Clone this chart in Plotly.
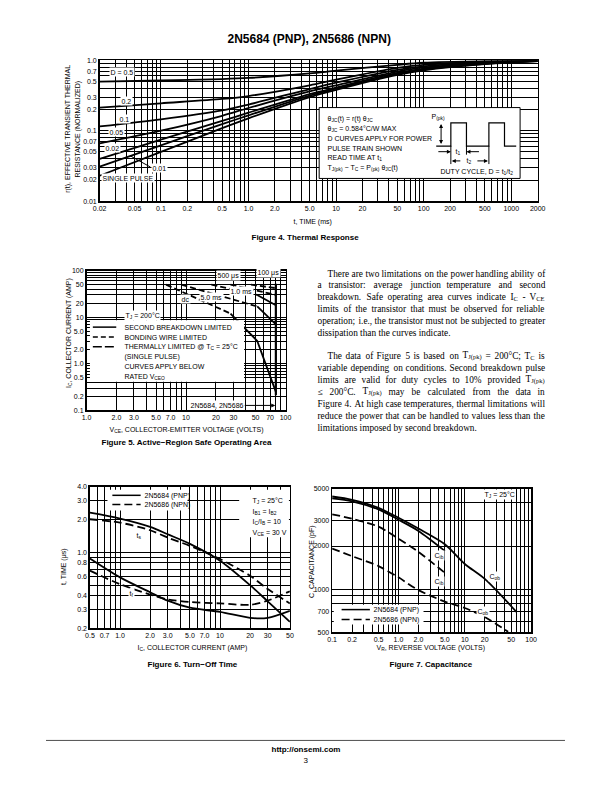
import plotly.graph_objects as go
import math
import re

W, H = 612, 792
F = "Liberation Sans Narrow, Arial Narrow, Liberation Sans, Arial, sans-serif"
FS = "Liberation Serif, Times New Roman, serif"
FB = "Liberation Sans, Arial, sans-serif"

# ---------------- Figure 4 : Thermal response ----------------
f4_t = [0.02, 0.1, 0.5, 1, 5, 10, 50, 100, 500, 2000]
f4_d05 = [0.496, 0.515, 0.54, 0.56, 0.65, 0.71, 0.86, 0.92, 0.97, 0.99]
f4_d02 = [0.213, 0.245, 0.282, 0.31, 0.44, 0.53, 0.78, 0.86, 0.95, 0.985]
f4_d01 = [0.115, 0.145, 0.194, 0.235, 0.39, 0.48, 0.73, 0.82, 0.93, 0.98]
f4_d005 = [0.066, 0.10, 0.163, 0.21, 0.36, 0.44, 0.69, 0.79, 0.91, 0.98]
f4_d002 = [0.040, 0.075, 0.138, 0.18, 0.33, 0.41, 0.66, 0.76, 0.90, 0.975]
f4_d001 = [0.031, 0.062, 0.124, 0.165, 0.315, 0.395, 0.64, 0.74, 0.89, 0.97]
f4_single = [0.023, 0.05, 0.109, 0.15, 0.30, 0.38, 0.62, 0.72, 0.88, 0.97]
f4_xt = [0.02, 0.05, 0.1, 0.2, 0.5, 1, 2, 5, 10, 20, 50, 100, 200, 500, 1000, 2000]
f4_xl = ['0.02', '0.05', '0.1', '0.2', '0.5', '1.0', '2.0', '5.0', '10', '20', '50', '100', '200', '500', '1000', '2000']
f4_yt = [0.01, 0.02, 0.03, 0.05, 0.07, 0.1, 0.2, 0.3, 0.5, 0.7, 1.0]
f4_yl = ['0.01', '0.02', '0.03', '0.05', '0.07', '0.1', '0.2', '0.3', '0.5', '0.7', '1.0']

# ---------------- Figure 5 : Safe operating area ----------------
f5_dc_th_v = [6.3, 28]
f5_dc_th_i = [50, 12]
f5_dc_sb_v = [28, 52, 80]
f5_dc_sb_i = [12, 3.1, 0.25]
f5_5ms_th_v = [9, 52]
f5_5ms_th_i = [50, 17]
f5_5ms_sb_v = [52, 80]
f5_5ms_sb_i = [17, 7]
f5_1ms_th_v = [18, 52]
f5_1ms_th_i = [50, 30]
f5_1ms_sb_v = [52, 80]
f5_1ms_sb_i = [30, 18]
f5_500us_v = [28, 80]
f5_500us_i = [50, 30]
f5_100us_v = [45, 80]
f5_100us_i = [50, 42]
f5_vceo_v = [80, 80]
f5_vceo_i = [52, 0.21]
f5_xt = [1, 2, 3, 5, 7, 10, 20, 30, 50, 70, 100]
f5_xl = ['1.0', '2.0', '3.0', '5.0', '7.0', '10', '20', '30', '50', '70', '100']
f5_yt = [0.1, 0.2, 0.5, 1, 2, 5, 10, 20, 50, 100]
f5_yl = ['0.1', '0.2', '0.5', '1.0', '2.0', '5.0', '10', '20', '50', '100']

# ---------------- Figure 6 : Turn-off time ----------------
f6_ic = [0.5, 1, 2, 3, 5, 10, 20, 30, 50]
f6_ts_pnp = [2.32, 2.05, 1.72, 1.47, 1.2, 0.84, 0.50, 0.355, 0.23]
f6_ts_npn = [2.02, 1.88, 1.6, 1.37, 1.15, 0.87, 0.61, 0.46, 0.34]
f6_tf_pnp = [0.88, 0.59, 0.43, 0.36, 0.31, 0.284, 0.25, 0.25, 0.29]
f6_tf_npn = [0.68, 0.51, 0.41, 0.37, 0.35, 0.34, 0.33, 0.36, 0.44]
f6_xt = [0.5, 0.7, 1, 2, 3, 5, 7, 10, 20, 30, 50]
f6_xl = ['0.5', '0.7', '1.0', '2.0', '3.0', '5.0', '7.0', '10', '20', '30', '50']
f6_yt = [0.2, 0.3, 0.4, 0.6, 0.8, 1, 2, 3, 4]
f6_yl = ['0.2', '0.3', '0.4', '0.6', '0.8', '1.0', '2.0', '3.0', '4.0']

# ---------------- Figure 7 : Capacitance ----------------
f7_v_ob_pnp = [0.1, 0.2, 0.5, 1, 2, 5, 10, 20, 60]
f7_cob_pnp = [4430, 4200, 3690, 3150, 2650, 2060, 1500, 1180, 695]
f7_v_ib = [0.1, 0.2, 0.5, 1, 2, 5]
f7_cib_pnp = [4300, 4100, 3600, 3050, 2550, 1850]
f7_cib_npn = [3330, 3100, 2730, 2250, 1820, 1300]
f7_v_ob_npn = [0.1, 0.2, 0.5, 1, 2, 5, 10, 20, 45]
f7_cob_npn = [1924, 1700, 1450, 1210, 985, 820, 740, 640, 505]
f7_xt = [0.1, 0.2, 0.5, 1, 2, 5, 10, 20, 50, 100]
f7_xl = ['0.1', '0.2', '0.5', '1.0', '2.0', '5.0', '10', '20', '50', '100']
f7_yt = [500, 700, 1000, 2000, 3000, 5000]
f7_yl = ['500', '700', '1000', '2000', '3000', '5000']

# text column
para1 = [
    "There are two limitations on the power handling ability of",
    "a transistor: average junction temperature and second",
    "breakdown. Safe operating area curves indicate I<sub>C</sub> - V<sub>CE</sub>",
    "limits of the transistor that must be observed for reliable",
    "operation; i.e., the transistor must not be subjected to greater",
    "dissipation than the curves indicate.",
]
para2 = [
    "The data of Figure 5 is based on T<sub>J(pk)</sub> = 200°C; T<sub>C</sub> is",
    "variable depending on conditions. Second breakdown pulse",
    "limits are valid for duty cycles to 10% provided T<sub>J(pk)</sub>",
    "≤ 200°C. T<sub>J(pk)</sub> may be calculated from the data in",
    "Figure 4. At high case temperatures, thermal limitations will",
    "reduce the power that can be handled to values less than the",
    "limitations imposed by second breakdown.",
]


def PX(x):
    return x / W


def PY(y):
    return 1 - y / H


def log_grid(lo, hi):
    out = []
    e = math.floor(math.log10(lo)) - 1
    while 10 ** e <= hi * 1.0001:
        for m in range(1, 10):
            v = m * 10 ** e
            if lo * 0.9999 <= v <= hi * 1.0001:
                out.append(v)
        e += 1
    return out


def axis(px0, px1, lo, hi, tv, tl, anchor, horizontal=True):
    d = dict(type='log', range=[math.log10(lo), math.log10(hi)],
             tickmode='array', tickvals=tv, ticktext=tl, ticks='',
             showgrid=True, gridcolor='black', gridwidth=1,
             minor=dict(tickmode='array', tickvals=log_grid(lo, hi), showgrid=True,
                        gridcolor='black', gridwidth=1, ticks=''),
             showline=True, linecolor='black', linewidth=1.5, mirror=True,
             zeroline=False, anchor=anchor, fixedrange=True,
             tickfont=dict(family=F, size=7, color='black'))
    if horizontal:
        d['domain'] = [px0 / W, px1 / W]
    else:
        d['domain'] = [1 - px1 / H, 1 - px0 / H]
    return d


fig = go.Figure()


def line(x, y, xa, ya, dash='solid', width=1.8, shape='spline'):
    fig.add_trace(go.Scatter(x=x, y=y, xaxis=xa, yaxis=ya, mode='lines',
                             line=dict(color='black', width=width, dash=dash, shape=shape, smoothing=0.8),
                             showlegend=False, hoverinfo='skip'))


# Figure 4 traces
for ys in [f4_d05, f4_d02, f4_d01, f4_d005, f4_d002, f4_d001, f4_single]:
    line(f4_t, ys, 'x', 'y')

# Figure 5 traces
TH = '6px,3px'
line(f5_dc_th_v, f5_dc_th_i, 'x2', 'y2', dash=TH, shape='linear')
line(f5_dc_sb_v, f5_dc_sb_i, 'x2', 'y2', shape='linear')
line(f5_5ms_th_v, f5_5ms_th_i, 'x2', 'y2', dash=TH, shape='linear')
line(f5_5ms_sb_v, f5_5ms_sb_i, 'x2', 'y2', shape='linear')
line(f5_1ms_th_v, f5_1ms_th_i, 'x2', 'y2', dash=TH, shape='linear')
line(f5_1ms_sb_v, f5_1ms_sb_i, 'x2', 'y2', shape='linear')
line(f5_500us_v, f5_500us_i, 'x2', 'y2', dash=TH, shape='linear')
line(f5_100us_v, f5_100us_i, 'x2', 'y2', dash=TH, shape='linear')
line(f5_vceo_v, f5_vceo_i, 'x2', 'y2', width=2.2, shape='linear')

# Figure 6 traces
line(f6_ic, f6_ts_pnp, 'x3', 'y3')
line(f6_ic, f6_ts_npn, 'x3', 'y3', dash='8px,4px')
line(f6_ic, f6_tf_pnp, 'x3', 'y3')
line(f6_ic, f6_tf_npn, 'x3', 'y3', dash='8px,4px')

# Figure 7 traces
line(f7_v_ob_pnp, f7_cob_pnp, 'x4', 'y4')
line(f7_v_ib, f7_cib_pnp, 'x4', 'y4')
line(f7_v_ib, f7_cib_npn, 'x4', 'y4', dash='8px,4px')
line(f7_v_ob_npn, f7_cob_npn, 'x4', 'y4', dash='8px,4px')

ann = []
shapes = []


def T(x, y, s, size=7, anchor='left', bg=None, family=F, angle=0, bold=False, color='black'):
    if bold:
        s = '<b>' + s + '</b>'
    a = dict(x=PX(x), y=PY(y), xref='paper', yref='paper', text=s, showarrow=False,
             xanchor=anchor, yanchor='middle', textangle=angle,
             font=dict(family=family, size=size, color=color), borderpad=0.5)
    if bg:
        a['bgcolor'] = bg
    ann.append(a)


def rect(x0, y0, x1, y1, border=False):
    shapes.append(dict(type='rect', xref='paper', yref='paper', x0=PX(x0), x1=PX(x1),
                       y0=PY(y1), y1=PY(y0), fillcolor='white', layer='above',
                       line=dict(color='black', width=1 if border else 0)))


def seg(x0, y0, x1, y1, dash='solid', width=1.5):
    shapes.append(dict(type='line', xref='paper', yref='paper', x0=PX(x0), x1=PX(x1),
                       y0=PY(y0), y1=PY(y1), layer='above',
                       line=dict(color='black', width=width, dash=dash)))


def arrow(x, y, ax, ay, both=False):
    ann.append(dict(x=PX(x), y=PY(y), xref='paper', yref='paper', text='', showarrow=True,
                    ax=ax - x, ay=ay - y, arrowhead=2, arrowsize=0.8, arrowwidth=1,
                    arrowcolor='black', arrowside='end+start' if both else 'end'))


# Times-Roman advance widths (per 1000 em) for justified text layout
TIMES = {' ': 250, '(': 333, ')': 333, ',': 250, '-': 333, '.': 250, ':': 278, ';': 278,
         '=': 564, '%': 833, '°': 400, '≤': 549,
         'A': 722, 'B': 667, 'C': 667, 'D': 722, 'E': 611, 'F': 556, 'G': 722, 'H': 722, 'I': 333,
         'J': 389, 'K': 722, 'L': 611, 'M': 889, 'N': 722, 'O': 722, 'P': 556, 'Q': 722, 'R': 667,
         'S': 556, 'T': 611, 'U': 722, 'V': 722, 'W': 944, 'X': 722, 'Y': 722, 'Z': 611,
         'a': 444, 'b': 500, 'c': 444, 'd': 500, 'e': 444, 'f': 333, 'g': 500, 'h': 500, 'i': 278,
         'j': 278, 'k': 500, 'l': 278, 'm': 778, 'n': 500, 'o': 500, 'p': 500, 'q': 500, 'r': 333,
         's': 389, 't': 278, 'u': 500, 'v': 500, 'w': 722, 'x': 500, 'y': 500, 'z': 444}


def word_width(w, size):
    total = 0.0
    for part, is_sub in [(p, i % 2 == 1) for i, p in enumerate(re.split(r'<sub>|</sub>', w))]:
        k = 0.7 if is_sub else 1.0
        for ch in part:
            total += TIMES.get(ch, 500) * size * k / 1000.0
    return total * 1.03


def paragraph(lines, y0, x0=317, x1=550, indent=10, size=9.3, lead=12):
    for li, s in enumerate(lines):
        left = x0 + (indent if li == 0 else 0)
        if li == len(lines) - 1:
            T(left, y0 + li * lead, s, size=size, family=FS)
            continue
        words = s.split(' ')
        widths = [word_width(w, size) for w in words]
        gap = (x1 - left - sum(widths)) / (len(words) - 1)
        x = left
        for w, wd in zip(words, widths):
            T(x, y0 + li * lead, w, size=size, family=FS)
            x += wd + gap


# header & footer
T(310, 35, '2N5684 (PNP), 2N5686 (NPN)', size=12, anchor='center', family=FB, bold=True)
seg(40, 743, 572, 743, width=0.7)
T(306, 752, 'http://onsemi.com', size=8, anchor='center', family=FB, bold=True)
T(306, 763, '3', size=8, anchor='center', family=FB)

# ---- Figure 4 annotations ----
T(63, 126, 'r(t), EFFECTIVE TRANSIENT THERMAL', angle=-90, anchor='center')
T(73, 126, 'RESISTANCE (NORMALIZED)', angle=-90, anchor='center')
T(313, 219, 't, TIME (ms)', anchor='center')
T(306, 235, 'Figure 4. Thermal Response', size=8, anchor='center', family=FB, bold=True)
T(118, 69, 'D = 0.5', anchor='center', bg='white')
T(123, 97.5, '0.2', anchor='center', bg='white')
T(120, 116, '0.1', anchor='center', bg='white')
T(112, 129.5, '0.05', anchor='center', bg='white')
T(108, 145.5, '0.02', anchor='center', bg='white')
T(156, 165.5, '0.01', anchor='center', bg='white')
seg(126, 153, 147, 164.5, width=1)
T(124, 176, 'SINGLE PULSE', anchor='center', bg='white')
rect(320, 104.5, 526, 176, border=True)
f4_box = ['θ<sub>JC</sub>(t) = r(t) θ<sub>JC</sub>', 'θ<sub>JC</sub> = 0.584°C/W MAX',
          'D CURVES APPLY FOR POWER', 'PULSE TRAIN SHOWN', 'READ TIME AT t<sub>1</sub>',
          'T<sub>J(pk)</sub> − T<sub>C</sub> = P<sub>(pk)</sub> θ<sub>JC</sub>(t)']
for i, s in enumerate(f4_box):
    T(327, 116 + i * 9.8, s)
shapes.append(dict(type='path', xref='paper', yref='paper', layer='above',
                   path='M {} {} L {} {} L {} {} L {} {} L {} {} L {} {} L {} {} L {} {} L {} {} L {} {}'.format(
                       PX(440), PY(143.3), PX(455), PY(143.3), PX(455), PY(120), PX(471), PY(120),
                       PX(471), PY(143.3), PX(494), PY(143.3), PX(494), PY(120), PX(510), PY(120),
                       PX(510), PY(143.3), PX(522), PY(143.3)),
                   line=dict(color='black', width=1.2)))
arrow(445, 121, 445, 142.5, both=True)
T(442, 114, 'P<sub>(pk)</sub>', anchor='center')
seg(455, 143, 455, 161.5, width=1)
seg(494, 143, 494, 161.5, width=1)
arrow(455, 149, 441, 149)
arrow(471, 149, 485, 149)
seg(471, 143, 471, 152, width=1)
T(462, 149, 't<sub>1</sub>', anchor='center')
arrow(456, 158.3, 466, 158.3)
arrow(493, 158.3, 481, 158.3)
T(473.5, 158.3, 't<sub>2</sub>', anchor='center')
T(482, 168.5, 'DUTY CYCLE, D = t<sub>1</sub>/t<sub>2</sub>', anchor='center')

# ---- Figure 5 annotations ----
T(63, 332, 'I<sub>C</sub>, COLLECTOR CURRENT (AMP)', angle=-90, anchor='center')
T(184, 429, 'V<sub>CE</sub>, COLLECTOR-EMITTER VOLTAGE (VOLTS)', anchor='center')
T(184, 442, 'Figure 5. Active−Region Safe Operating Area', size=8, anchor='center', family=FB, bold=True)
rect(85, 319, 243, 381)
T(120, 314, 'T<sub>J</sub> = 200°C', bg='white')
seg(88, 326, 112, 326)
seg(88, 336, 112, 336, dash='5px,3px')
seg(88, 345.7, 112, 345.7, dash='9px,3px')
T(119, 326, 'SECOND BREAKDOWN LIMITED')
T(119, 336, 'BONDING WIRE LIMITED')
T(119, 345.7, 'THERMALLY LIMITED @ T<sub>C</sub> = 25°C')
T(119, 355.5, '(SINGLE PULSE)')
T(119, 365.5, 'CURVES APPLY BELOW')
T(119, 375.5, 'RATED V<sub>CEO</sub>')
T(183, 298, 'dc', anchor='center', bg='white')
T(210, 296, '5.0 ms', anchor='center', bg='white')
T(240, 290, '1.0 ms', anchor='center', bg='white')
T(227, 274, '500 μs', anchor='center', bg='white')
T(268, 271, '100 μs', anchor='center', bg='white')
T(215, 405, '2N5684, 2N5686', anchor='center', bg='white')
arrow(275, 405, 243, 405)

# ---- Figure 6 annotations ----
T(59, 568, 't, TIME (μs)', angle=-90, anchor='center')
T(190, 649, 'I<sub>C</sub>, COLLECTOR CURRENT (AMP)', anchor='center')
T(190, 666, 'Figure 6. Turn−Off Time', size=8, anchor='center', family=FB, bold=True)
rect(103, 490, 185, 511)
seg(108, 495.7, 137, 495.7)
seg(108, 505, 137, 505, dash='8px,4px')
T(139, 495.7, '2N5684 (PNP)')
T(139, 505, '2N5686 (NPN)')
rect(238, 490, 289, 538)
T(250, 501, 'T<sub>J</sub> = 25°C')
T(250, 512, 'I<sub>B1</sub> = I<sub>B2</sub>')
T(250, 522, 'I<sub>C</sub>/I<sub>B</sub> = 10')
T(250, 533, 'V<sub>CE</sub> = 30 V')
T(135, 536, 't<sub>s</sub>', anchor='center', bg='white')
T(128, 595, 't<sub>f</sub>', anchor='center', bg='white')

# ---- Figure 7 annotations ----
T(312, 563, 'C, CAPACITANCE (pF)', angle=-90, anchor='center')
T(435, 649, 'V<sub>R</sub>, REVERSE VOLTAGE (VOLTS)', anchor='center')
T(435, 666, 'Figure 7. Capacitance', size=8, anchor='center', family=FB, bold=True)
rect(335, 606, 427, 626)
seg(343, 611, 372, 611)
seg(343, 621, 372, 621, dash='8px,4px')
T(374, 611, '2N5684 (PNP)')
T(374, 621, '2N5686 (NPN)')
T(505, 495, 'T<sub>J</sub> = 25°C', anchor='center', bg='white')
T(443, 556, 'C<sub>ib</sub>', anchor='center', bg='white')
T(443, 583, 'C<sub>ib</sub>', anchor='center', bg='white')
T(500, 578, 'C<sub>ob</sub>', anchor='center', bg='white')
T(488, 612.5, 'C<sub>ob</sub>', anchor='center', bg='white')

# ---- text column (justified) ----
paragraph(para1, 271.5)
paragraph(para2, 355)

fig.update_layout(
    width=W, height=H, margin=dict(l=0, r=0, t=0, b=0),
    paper_bgcolor='white', plot_bgcolor='white', showlegend=False,
    xaxis=axis(95, 544, 0.02, 2000, f4_xt, f4_xl, 'y'),
    yaxis=axis(56.7, 199, 0.01, 1.0, f4_yt, f4_yl, 'x', horizontal=False),
    xaxis2=axis(81.5, 285.5, 1, 100, f5_xt, f5_xl, 'y2'),
    yaxis2=axis(269, 410, 0.1, 100, f5_yt, f5_yl, 'x2', horizontal=False),
    xaxis3=axis(85, 290, 0.5, 50, f6_xt, f6_xl, 'y3'),
    yaxis3=axis(487.3, 630, 0.2, 4, f6_yt, f6_yl, 'x3', horizontal=False),
    xaxis4=axis(333.3, 537.3, 0.1, 100, f7_xt, f7_xl, 'y4'),
    yaxis4=axis(489.3, 634, 500, 5000, f7_yt, f7_yl, 'x4', horizontal=False),
    annotations=ann, shapes=shapes,
)
fig.write_html("out.html", config={'displayModeBar': False, 'staticPlot': True},
               post_script="document.body.style.margin='0px';document.body.style.overflow='hidden';")
